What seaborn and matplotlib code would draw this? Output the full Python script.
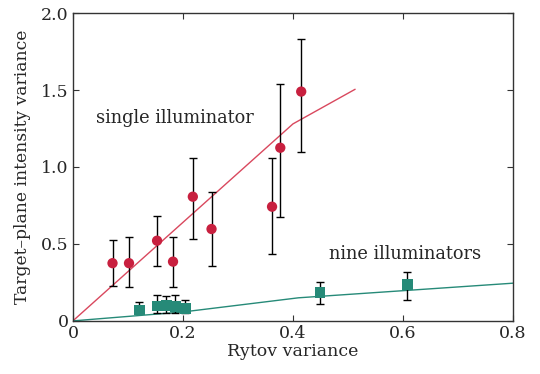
import numpy as np
import matplotlib
matplotlib.use("Agg")
import matplotlib.pyplot as plt
import seaborn as sns

# ---------- data ----------
single_x = [0.072, 0.102, 0.153, 0.182, 0.218, 0.252, 0.362, 0.377, 0.415]
single_y = [0.375, 0.375, 0.521, 0.385, 0.807, 0.597, 0.742, 1.125, 1.490]
single_lo = [0.229, 0.219, 0.359, 0.223, 0.532, 0.359, 0.435, 0.677, 1.100]
single_hi = [0.526, 0.547, 0.684, 0.547, 1.060, 0.838, 1.060, 1.537, 1.830]

nine_x = [0.121, 0.153, 0.170, 0.186, 0.204, 0.449, 0.608]
nine_y = [0.071, 0.097, 0.100, 0.095, 0.082, 0.184, 0.238]
nine_lo = [0.050, 0.054, 0.054, 0.050, 0.054, 0.110, 0.134]
nine_hi = [0.123, 0.169, 0.162, 0.169, 0.136, 0.255, 0.318]

# fitted curves
single_fit_x = [0.0, 0.40, 0.513]
single_fit_y = [0.0, 1.28, 1.505]
nine_fit_x = [0.0, 0.20, 0.41, 0.80]
nine_fit_y = [0.0, 0.058, 0.150, 0.245]

x_ticks = [0, 0.2, 0.4, 0.6, 0.8]
x_labels = ["0", "0.2", "0.4", "0.6", "0.8"]
y_ticks = [0, 0.5, 1.0, 1.5, 2.0]
y_labels = ["0", "0.5", "1.0", "1.5", "2.0"]

red = "#c8203f"
red_line = "#d9485e"
green = "#268a78"

sns.set_style("ticks")
plt.rcParams["font.family"] = ["DejaVu Serif"]

fig = plt.figure(figsize=(5.4, 3.74), dpi=100)
ax = fig.add_axes([0.135, 0.142, 0.815, 0.823])

# fit lines
sns.lineplot(x=single_fit_x, y=single_fit_y, color=red_line, lw=1.0, ax=ax, sort=False)
sns.lineplot(x=nine_fit_x, y=nine_fit_y, color=green, lw=1.0, ax=ax, sort=False)

# error bars
sx, sy = np.array(single_x), np.array(single_y)
ax.errorbar(sx, sy, yerr=[sy - np.array(single_lo), np.array(single_hi) - sy],
            fmt="none", ecolor="black", elinewidth=1.0, capsize=3, capthick=1.0, zorder=3)
nx, ny = np.array(nine_x), np.array(nine_y)
ax.errorbar(nx, ny, yerr=[ny - np.array(nine_lo), np.array(nine_hi) - ny],
            fmt="none", ecolor="black", elinewidth=1.0, capsize=3, capthick=1.0, zorder=3)

# markers
sns.scatterplot(x=single_x, y=single_y, color=red, marker="o", s=55,
                edgecolor="none", ax=ax, zorder=4)
sns.scatterplot(x=nine_x, y=nine_y, color=green, marker="s", s=60,
                edgecolor="none", ax=ax, zorder=4)

ax.text(0.185, 1.32, "single illuminator", ha="center", va="center", fontsize=12.8)
ax.text(0.604, 0.435, "nine illuminators", ha="center", va="center", fontsize=12.8)

ax.set_xlim(0, 0.8)
ax.set_ylim(0, 2.0)
ax.set_xticks(x_ticks)
ax.set_xticklabels(x_labels)
ax.set_yticks(y_ticks)
ax.set_yticklabels(y_labels)
ax.tick_params(direction="in", top=True, right=True, labelsize=12.5, length=4,
               width=0.8, color="#333333", pad=3)
for sp in ax.spines.values():
    sp.set_linewidth(1.0)
    sp.set_color("#333333")

ax.set_xlabel("Rytov variance", fontsize=12.5, labelpad=1)
ax.set_ylabel("Target\u2013plane intensity variance", fontsize=12.3, labelpad=7)

fig.savefig("out.png", dpi=100)
